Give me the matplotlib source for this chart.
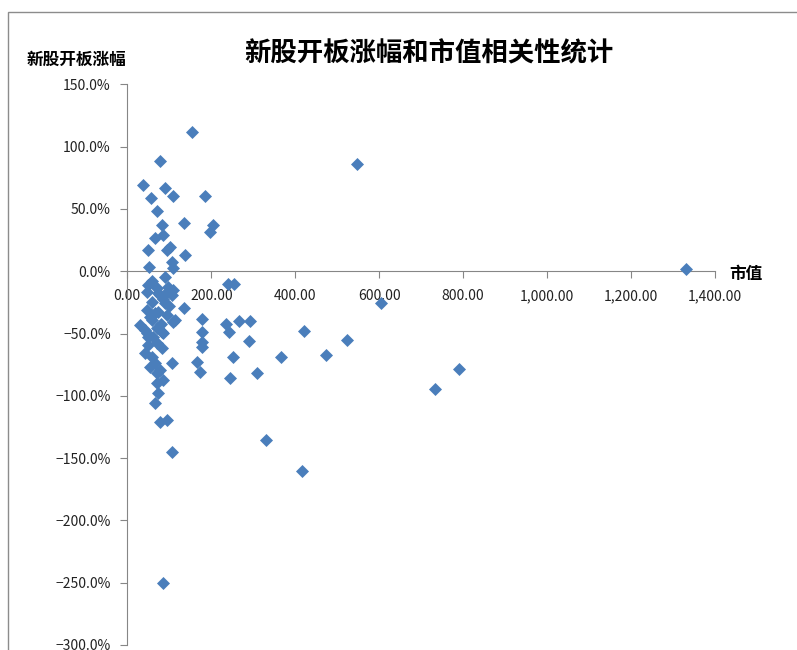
import matplotlib
matplotlib.use("Agg")
import matplotlib.pyplot as plt
from matplotlib.ticker import PercentFormatter, StrMethodFormatter
from matplotlib.patches import Rectangle

plt.rcParams['font.family'] = ['Noto Sans CJK SC', 'DejaVu Sans']

title = "新股开板涨幅和市值相关性统计"
x_name = "市值"
y_name = "新股开板涨幅"

# 市值 (x) and 开板涨幅 in percent (y)
market_cap = [
    155, 77, 546, 38, 90, 109, 57, 186, 71, 83, 134, 204, 196, 86, 66, 102,
    95, 50, 138, 107, 52, 110, 1330, 90, 50, 239, 253,
    58, 71, 98, 78, 107, 47, 74, 95, 110, 85, 59, 90, 605, 47, 134, 74, 95,
    66, 54, 114, 59, 30, 110, 71, 86, 50, 71, 42, 83, 47, 62, 50, 83, 42,
    59, 66, 107, 54, 78, 71, 86, 71, 74, 66, 77, 95, 107, 86, 80, 100,
    178, 178, 178, 177, 167, 173, 234, 265, 293, 242, 290, 252, 244, 308,
    366, 422, 474, 524, 732, 790, 330, 417,
]
gain = [
    112, 88.5, 86.4, 69, 66.5, 60, 58.5, 60, 48.3, 37, 38.4, 37, 31.7, 29,
    26.4, 19.7, 17, 17, 13, 7.6, 3.6, 2.3, 2, -5, -11, -10.2, -10.2,
    -8, -13.7, -12.4, -19, -19, -16.5, -17.7, -16.5, -15, -22, -24.5, -25.8,
    -25.4, -31, -29.8, -32.5, -35.2, -33.8, -36.5, -39.2, -39.2, -43.2,
    -40.5, -45.8, -49.8, -52.6, -57.9, -47.2, -48.6, -49.8, -52.6, -59.2,
    -61.9, -65.9, -68.6, -73.9, -73.9, -76.6, -79.3, -82, -87.3, -90, -98,
    -106, -120.8, -119.4, -145, -250.5, -42, -28,
    -38.4, -48.6, -56.6, -60.6, -72.6, -80.7, -42.4, -39.7, -39.7, -49,
    -56, -68.6, -86, -81.5, -68.6, -47.8, -67.3, -55.2, -94.5, -78.7,
    -135.5, -160.6,
]

x_ticks = [0, 200, 400, 600, 800, 1000, 1200, 1400]
y_ticks = [150, 100, 50, 0, -50, -100, -150, -200, -250, -300]

W, H = 797, 650
fig = plt.figure(figsize=(W / 100, H / 100), dpi=100)
ax = fig.add_axes([127.3 / W, 1 - 645 / H, (715 - 127.3) / W, (645 - 84.3) / H])

ax.scatter(market_cap, gain, marker='D', s=44, color='#4A7EBB',
           linewidths=0, zorder=3, clip_on=False)

ax.set_xlim(0, 1400)
ax.set_ylim(-300, 150)
ax.set_xticks(x_ticks)
ax.set_yticks(y_ticks)
ax.xaxis.set_major_formatter(StrMethodFormatter('{x:,.2f}'))
ax.yaxis.set_major_formatter(PercentFormatter(xmax=100, decimals=1))

axis_gray = '#868686'
for side in ['top', 'right']:
    ax.spines[side].set_visible(False)
ax.spines['bottom'].set_position(('data', 0))
ax.spines['bottom'].set_color(axis_gray)
ax.spines['left'].set_color(axis_gray)
ax.tick_params(axis='x', direction='out', length=5, color=axis_gray,
               labelsize=10, pad=8, labelcolor='#222222')
ax.tick_params(axis='y', direction='out', length=5, color=axis_gray,
               labelsize=10, pad=7, labelcolor='#222222')

fig.text(428.5 / W, 1 - 54 / H, title, fontsize=19, fontweight='bold',
         ha='center', va='center')
fig.text(27 / W, 1 - 60 / H, y_name, fontsize=12, fontweight='bold',
         ha='left', va='center')
fig.text(729 / W, 1 - 274 / H, x_name, fontsize=12, fontweight='bold',
         ha='left', va='center')

# outer chart border (Excel chart area)
fig.patches.append(Rectangle((8 / W, -0.1), 1.2, 1.1 - 12 / H,
                             transform=fig.transFigure, fill=False,
                             edgecolor='#8c8c8c', linewidth=1))

fig.savefig("out.png", dpi=100)
